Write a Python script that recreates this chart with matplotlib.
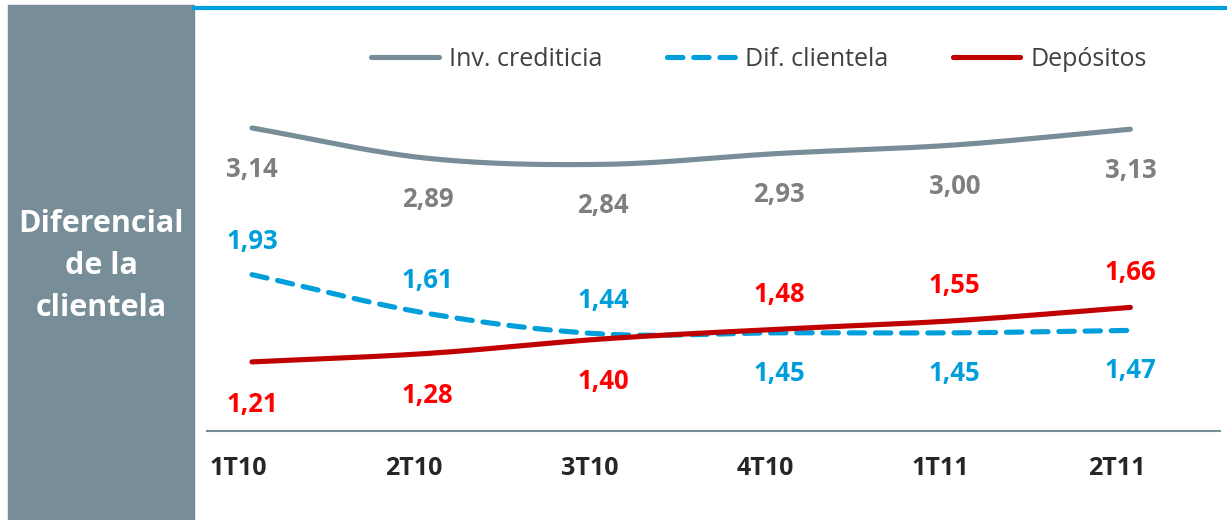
import numpy as np
import matplotlib
matplotlib.use("Agg")
import matplotlib.pyplot as plt
from matplotlib.patches import Rectangle
from matplotlib.lines import Line2D

# data
quarters = ["1T10", "2T10", "3T10", "4T10", "1T11", "2T11"]
inv_crediticia = [3.14, 2.89, 2.84, 2.93, 3.00, 3.13]
dif_clientela = [1.93, 1.61, 1.44, 1.45, 1.45, 1.47]
depositos = [1.21, 1.28, 1.40, 1.48, 1.55, 1.66]
# label above (+1) or below (-1) the line
dif_side = [1, 1, 1, -1, -1, -1]
dep_side = [-1, -1, -1, 1, 1, 1]

GRAY = "#778D97"
BLUE = "#009FDB"
RED = "#C00000"
plt.rcParams["font.family"] = ["Open Sans", "DejaVu Sans"]


def smooth(y, n=40):
    # Catmull-Rom spline through the points (Excel style smoothed line)
    y = np.asarray(y, dtype=float)
    x = np.arange(len(y), dtype=float)
    p = np.concatenate([[2 * y[0] - y[1]], y, [2 * y[-1] - y[-2]]])
    xs, ys = [], []
    for i in range(len(y) - 1):
        t = np.linspace(0, 1, n, endpoint=False)
        p0, p1, p2, p3 = p[i], p[i + 1], p[i + 2], p[i + 3]
        yy = 0.5 * ((2 * p1) + (-p0 + p2) * t + (2 * p0 - 5 * p1 + 4 * p2 - p3) * t ** 2
                    + (-p0 + 3 * p1 - 3 * p2 + p3) * t ** 3)
        xs.append(x[i] + t)
        ys.append(yy)
    xs.append([x[-1]])
    ys.append([y[-1]])
    return np.concatenate(xs), np.concatenate(ys)


fig = plt.figure(figsize=(12.27, 5.20), dpi=100)

# left panel and top rule
fig.patches.append(Rectangle((8 / 1227, 0), 186 / 1227, 515 / 520, transform=fig.transFigure,
                             color=GRAY, zorder=0))
fig.add_artist(Line2D([194 / 1227, 1], [512 / 520, 512 / 520], color=BLUE, lw=3,
                      transform=fig.transFigure))
fig.text(101 / 1227, 1 - 266 / 520, "Diferencial\nde la\nclientela", color="white",
         fontsize=22, fontweight="bold", ha="center", va="center", linespacing=1.5)

ax = fig.add_axes([207 / 1227, 1 - 431 / 520, 1013 / 1227, 420 / 520])
ax.set_xlim(-0.256, 5.51)
ax.set_ylim(0.640, 0.640 + 420 / 121.2)
for s in ["top", "right", "left"]:
    ax.spines[s].set_visible(False)
ax.spines["bottom"].set_color(GRAY)
ax.spines["bottom"].set_linewidth(1.5)
ax.set_yticks([])
ax.set_xticks([])

x = np.arange(len(quarters))
lw = 3.7
sx, sy = smooth(inv_crediticia)
ax.plot(sx, sy, color=GRAY, lw=lw, solid_capstyle="round")
sx, sy = smooth(dif_clientela)
ax.plot(sx, sy, color=BLUE, lw=lw, ls=(0, (3.0, 2.1)), dash_capstyle="round")
sx, sy = smooth(depositos)
ax.plot(sx, sy, color=RED, lw=lw, solid_capstyle="round")

off = 0.31
dy = -0.03
fs = 18.5
for i in x:
    ax.text(i, inv_crediticia[i] - off + dy, f"{inv_crediticia[i]:.2f}".replace(".", ","),
            color="#7F7F7F", fontsize=fs, fontweight="bold", ha="center", va="center")
    ax.text(i, dif_clientela[i] + dif_side[i] * off * 0.98 + dy, f"{dif_clientela[i]:.2f}".replace(".", ","),
            color=BLUE, fontsize=fs, fontweight="bold", ha="center", va="center")
    ax.text(i, depositos[i] + dep_side[i] * off * 1.03 + dy, f"{depositos[i]:.2f}".replace(".", ","),
            color="#FF0000", fontsize=fs, fontweight="bold", ha="center", va="center")
    ax.text(i - 0.08, -0.09, quarters[i], transform=ax.get_xaxis_transform(),
            color="#262626", fontsize=18, fontweight="bold", ha="center", va="center")

handles = [Line2D([], [], color=GRAY, lw=lw, solid_capstyle="round"),
           Line2D([], [], color=BLUE, lw=lw, ls=(0, (3.0, 2.1)), dash_capstyle="round"),
           Line2D([], [], color=RED, lw=lw, solid_capstyle="round")]
ax.legend(handles, ["Inv. crediticia", "Dif. clientela", "Depósitos"], loc="center",
          bbox_to_anchor=(0.545, 1 - 48 / 420), ncol=3, frameon=False, fontsize=18,
          handlelength=2.7, columnspacing=2.6, handletextpad=0.4, labelcolor="#404040")

fig.savefig("out.png", dpi=100)
